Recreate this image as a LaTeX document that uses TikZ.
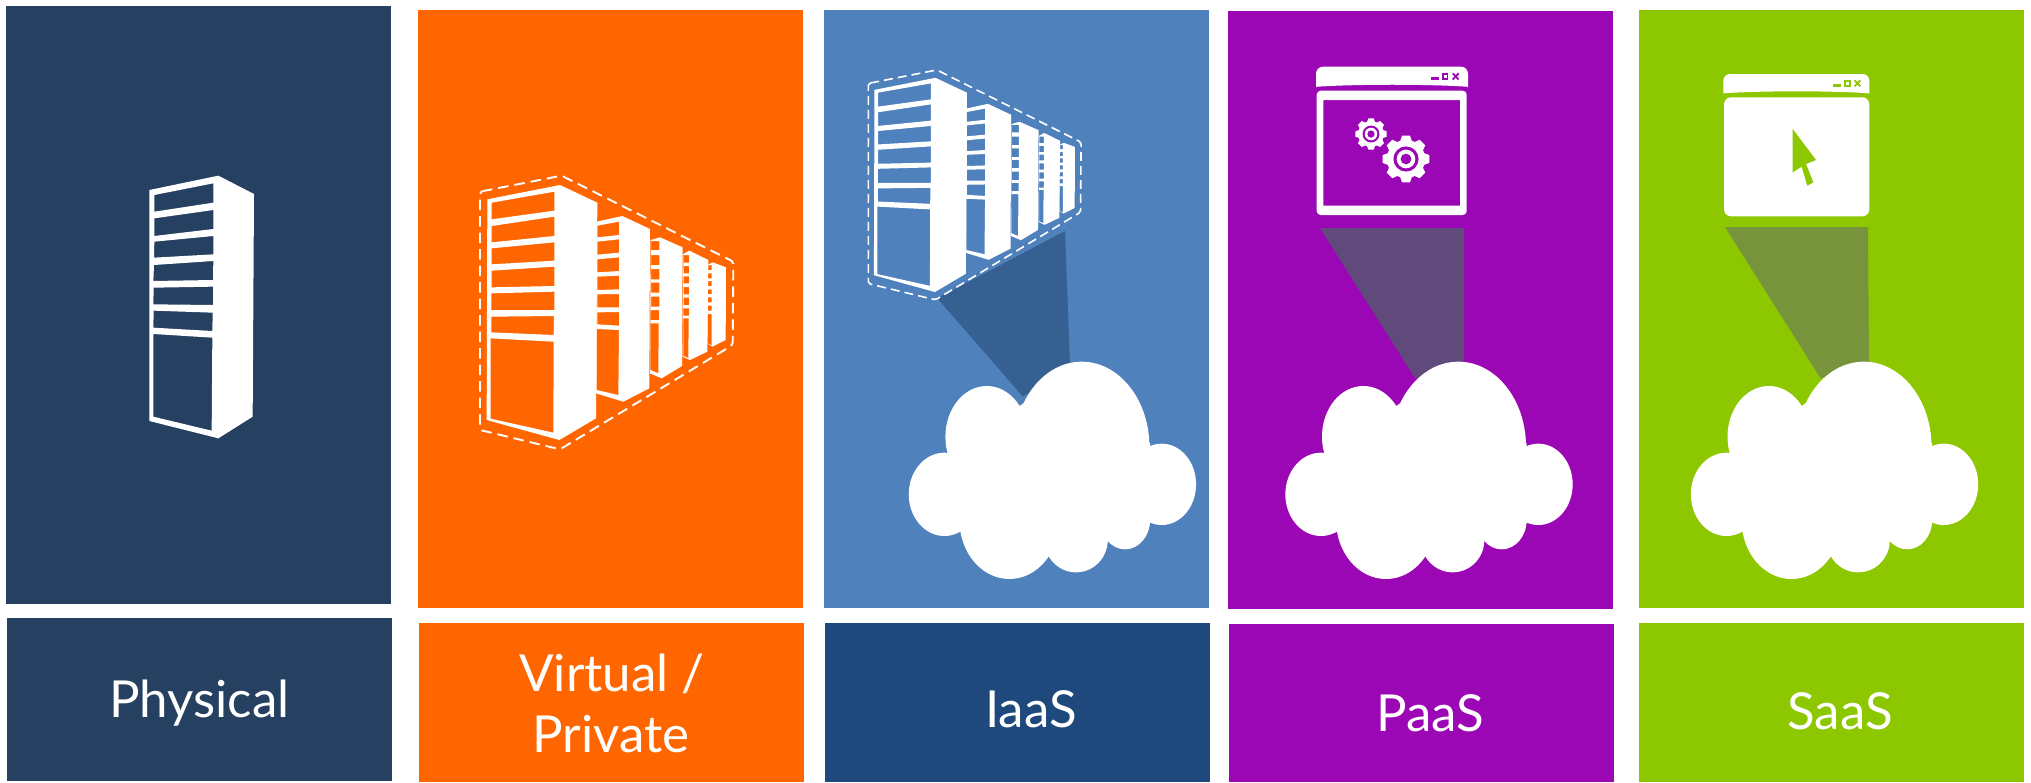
\documentclass[tikz,border=0pt]{standalone}
\usepackage{xcolor}
\usepackage{fontspec}
\setmainfont{Lato}
\usepackage{tikz}

\definecolor{physicalblue}{HTML}{264061}
\definecolor{virtualorange}{HTML}{FF6600}
\definecolor{iaasblue}{HTML}{4F81BD}
\definecolor{iaasdark}{HTML}{1F497D}
\definecolor{iaasbeam}{HTML}{376092}
\definecolor{paaspurple}{HTML}{9C07B5}
\definecolor{paasbeam}{HTML}{604A7B}
\definecolor{saasgreen}{HTML}{8DC700}
\definecolor{saasbeam}{HTML}{77933C}

\tikzset{
  caption/.style={text=white, inner sep=0pt, anchor=base, font=\fontsize{51}{61}\selectfont, align=center},
  rackfill/.style={fill=white, even odd rule},
  groupdash/.style={draw=white, rounded corners=2pt, line width=1.9pt}
}

% one rack, coordinates of the zoomed crop
\newcommand{\bigrack}{%
  \fill[rackfill] (82,118) -- (300,75) -- (412,128) -- (408,775) -- (298,840) -- (80,780) -- cycle
    (95,128) -- (283,95) -- (283,152) -- (95,178) -- cycle
    (95,198) -- (283,170) -- (283,228) -- (95,247) -- cycle
    (95,265) -- (283,247) -- (283,302) -- (95,313) -- cycle
    (95,332) -- (283,320) -- (283,378) -- (95,382) -- cycle
    (94,400) -- (283,395) -- (283,450) -- (94,450) -- cycle
    (94,470) -- (282,468) -- (281,525) -- (94,517) -- cycle
    (92,535) -- (281,545) -- (280,818) -- (92,776) -- cycle;
}

% row of racks with the dashed outline
\newcommand{\servergroup}[1]{%
  \draw[groupdash, #1] (60,95) -- (305,47) -- (820,305) -- (818,555) -- (300,868) -- (60,810) -- cycle;
  \bigrack
  \fill[rackfill] (410,185) -- (487,168) -- (570,207) -- (568,685) -- (490,725) -- (408,700) -- cycle
    (412,197) -- (477,185) -- (477,225) -- (412,232) -- cycle
    (412,245) -- (477,238) -- (477,278) -- (412,284) -- cycle
    (412,298) -- (477,292) -- (477,333) -- (412,337) -- cycle
    (412,350) -- (477,347) -- (477,388) -- (412,390) -- cycle
    (412,403) -- (477,402) -- (477,442) -- (412,442) -- cycle
    (412,457) -- (477,456) -- (477,497) -- (412,493) -- cycle
    (410,507) -- (477,510) -- (475,705) -- (410,690) -- cycle;
  \fill[rackfill] (572,240) -- (600,232) -- (668,262) -- (666,618) -- (605,655) -- (570,640) -- cycle
    (573,243) rectangle (598,270)
    (573,285) rectangle (598,315)
    (573,327) rectangle (598,358)
    (573,368) rectangle (598,398)
    (573,410) rectangle (598,440)
    (572,450) rectangle (597,480)
    (571,490) -- (596,490) -- (595,640) -- (571,630) -- cycle;
  \fill[rackfill] (670,282) -- (688,272) -- (745,300) -- (742,575) -- (690,600) -- (668,590) -- cycle
    (671,285) rectangle (687,308)
    (671,318) rectangle (687,340)
    (671,349) rectangle (687,370)
    (671,381) rectangle (687,403)
    (671,413) rectangle (687,435)
    (670,445) rectangle (687,467)
    (670,475) -- (686,475) -- (685,594) -- (670,588) -- cycle;
  \fill[rackfill] (742,315) -- (758,307) -- (798,322) -- (797,540) -- (757,560) -- (742,550) -- cycle
    (743,315) rectangle (755,330)
    (743,340) rectangle (755,355)
    (743,363) rectangle (755,378)
    (743,388) rectangle (755,402)
    (743,412) rectangle (755,427)
    (743,437) rectangle (755,452)
    (743,462) -- (755,462) -- (755,556) -- (743,550) -- cycle;
}

% cloud, #1 is the shift
\newcommand{\cloudshape}[1]{%
  \begin{scope}[shift={#1}, scale=1/3]
    \fill[white] (595,290) ellipse [x radius=203, y radius=255];
    \fill[white] (310,260) ellipse [x radius=124, y radius=152];
    \fill[white] (183,433) ellipse [x radius=107, y radius=125];
    \fill[white] (835,403) ellipse [x radius=103, y radius=122];
    \fill[white] (378,510) ellipse [x radius=150, y radius=177];
    \fill[white] (578,570) ellipse [x radius=95, y radius=97];
    \fill[white] (725,510) ellipse [x radius=75, y radius=88];
    \fill[white] (190,320) -- (420,160) -- (800,280) -- (800,520) -- (670,575) -- (230,545) -- cycle;
  \end{scope}
}

% title bar, #1 shift, #2 scale, #3 colour of the buttons
\newcommand{\windowbar}[3]{%
  \begin{scope}[shift={#1}, scale=#2]
    \fill[white] (0,58) -- (0,20) arc[start angle=180, end angle=270, radius=20] -- (418,0) arc[start angle=270, end angle=360, radius=20] -- (438,58) .. controls (330,50) and (110,50) .. (0,58) -- cycle;
    \fill[#3] (330,31) rectangle (353,38);
    \draw[#3, line width=1.8pt] (365,21) rectangle (379,35);
    \draw[#3, line width=1.8pt] (394,19) -- (411,37) (411,19) -- (394,37);
  \end{scope}
}

\newcommand{\gearicon}[2]{%
  \begin{scope}[shift={#1}, scale=#2]
    \fill[white] (0,0) circle (.82);
    \foreach \ang in {0,45,...,315}
      \fill[white, rotate=\ang] (-.27,.72) -- (-.17,1) -- (.17,1) -- (.27,.72) -- cycle;
    \fill[paaspurple] (0,0) circle (.54);
    \fill[white] (0,0) circle (.4);
    \fill[paaspurple] (0,0) circle (.23);
  \end{scope}
}

\begin{document}
\begin{tikzpicture}[x=1pt, y=-1pt]
\useasboundingbox (0,0) rectangle (2031,782);

% panels
\fill[physicalblue] (6,6) rectangle (391,604);
\fill[virtualorange] (418,10) rectangle (803,608);
\fill[iaasblue] (824,10) rectangle (1209,608);
\fill[paaspurple] (1228,11) rectangle (1613,609);
\fill[saasgreen] (1639,10) rectangle (2024,608);

% caption boxes
\fill[physicalblue] (7,618) rectangle (392,781);
\fill[virtualorange] (419,623) rectangle (804,782);
\fill[iaasdark] (825,623) rectangle (1210,782);
\fill[paaspurple] (1229,624) rectangle (1614,782);
\fill[saasgreen] (1639,623) rectangle (2024,782);

\node[caption] (physical) at (199.5,717) {Physical};
\node[caption] (virtual) at (612,691) {Virtual /};
\node[caption] (private) at (611,752) {Private};
\node[caption] (iaas) at (1031,727) {IaaS};
\node[caption] (paas) at (1430,731) {PaaS};
\node[caption] (saas) at (1840,729) {SaaS};

% physical
\begin{scope}[shift={(120,160)}, scale=1/3]
  \fill[rackfill] (88,90) -- (295,47) -- (402,102) -- (398,770) -- (295,835) -- (88,783) -- cycle
    (103,105) -- (280,70) -- (280,128) -- (103,155) -- cycle
    (103,175) -- (280,150) -- (280,207) -- (103,228) -- cycle
    (103,245) -- (280,228) -- (280,283) -- (102,293) -- cycle
    (102,315) -- (280,303) -- (279,360) -- (100,363) -- cycle
    (101,383) -- (279,380) -- (279,435) -- (100,433) -- cycle
    (101,452) -- (278,458) -- (277,513) -- (100,503) -- cycle
    (100,522) -- (277,533) -- (275,812) -- (100,770) -- cycle;
\end{scope}

% virtual
\begin{scope}[shift={(460,160)}, scale=1/3]
  \servergroup{dash pattern=on 10.5pt off 6pt}
\end{scope}

% iaas
\fill[iaasbeam] (937.3,298.3) -- (1065,231) -- (1070,363.3) -- (1023,396.7) -- cycle;
\begin{scope}[shift={(851.5,56.8)}, scale=.28]
  \servergroup{dash pattern=on 9pt off 5pt, line width=1.6pt}
\end{scope}
\cloudshape{(883.4,350)}

% paas
\fill[paasbeam] (1320,228) -- (1464,228) -- (1464,370) -- (1415,378) -- cycle;
\windowbar{(1316,66.7)}{.347}{paaspurple}
\fill[white, even odd rule, rounded corners=4pt] (1316.7,90.7) rectangle (1466.7,215)
  [sharp corners] (1323.3,100) rectangle (1460,205.7);
\gearicon{(1371,134)}{15.7}
\gearicon{(1406,159)}{23.3}
\cloudshape{(1260,350)}

% saas
\fill[saasbeam] (1725,227) -- (1868,227) -- (1869,370) -- (1820.5,378) -- cycle;
\windowbar{(1723.3,74)}{1/3}{saasgreen}
\fill[white, rounded corners=7pt] (1724,97.3) rectangle (1869.3,216.3);
\fill[saasgreen] (1792.7,129) -- (1816,160) -- (1806,164) -- (1813.3,182.3) -- (1807.3,185.7) -- (1801.7,166.7) -- (1792.7,172.3) -- cycle;
\cloudshape{(1665.5,350)}
\end{tikzpicture}
\end{document}
